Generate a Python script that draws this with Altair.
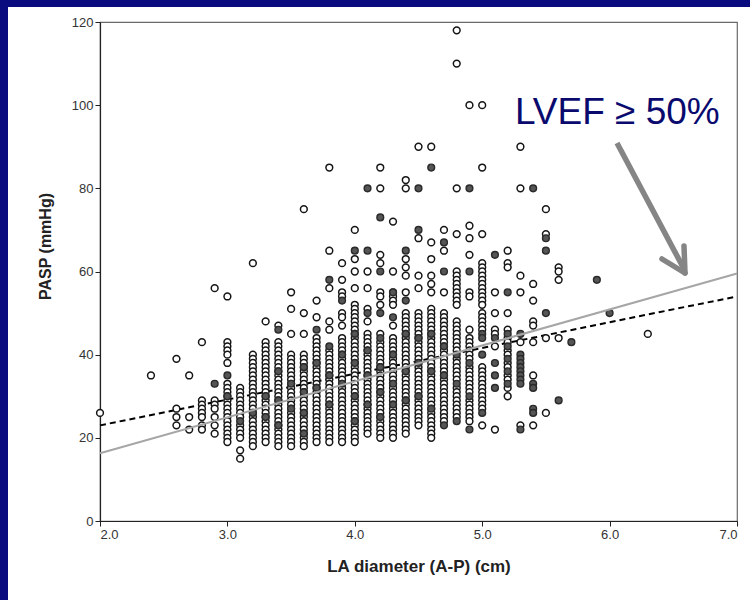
import altair as alt
import pandas as pd

# ---- data: PASP values per LA-diameter column ----
OPEN = {
    "2.0": "26",
    "2.4": "35",
    "2.6": "39 27 25 23",
    "2.7": "35 25 22",
    "2.8": "43 29 28 27 26 25 23 22",
    "2.9": "56 29 28 27 25 23 21",
    "3.0": "54 43 42 41 40 38 33 32 31 30 29 28 27 26 25 24 23 22 21 20 19",
    "3.1": "32 31 30 29 28 27 26 25 23 22 21 20 17 15",
    "3.2": "62 40 39 38 37 36 35 34 33 32 31 30 29 28 27 26 25 24 23 22 21 20 19 18",
    "3.3": "48 43 42 41 40 39 38 37 36 35 34 33 32 31 30 29 28 27 26 25 24 23 22 21 20 19",
    "3.4": "47 43 42 41 40 39 38 37 36 35 34 33 32 31 30 29 28 27 26 25 24 23 22 21 20 19 18",
    "3.5": "55 51 45 40 39 38 37 36 35 34 33 32 31 30 29 28 27 26 25 24 23 22 21 20 19 18",
    "3.6": "75 50 45 40 39 38 37 36 35 34 33 32 31 30 29 28 27 26 25 24 23 22 21 20 19 18",
    "3.7": "53 49 44 43 42 41 40 39 38 37 36 35 34 33 32 31 30 29 28 27 26 25 24 23 22 21 20 19",
    "3.8": "85 65 56 48 46 41 40 39 38 37 36 35 34 33 32 31 30 29 28 27 26 25 24 23 22 21 20 19",
    "3.9": "62 58 55 54 50 49 47 44 43 42 41 40 39 38 37 36 35 34 33 32 31 30 29 28 27 26 25 24 23 22 21 20 19",
    "4.0": "70 63 60 56 52 51 50 49 48 47 46 45 44 43 42 41 40 39 38 37 36 35 34 33 32 31 30 29 28 27 26 25 24 23 22 21 20 19",
    "4.1": "60 56 51 48 45 44 43 42 41 40 39 38 37 36 35 34 33 32 31 30 29 28 27 26 25 24 23 22 21",
    "4.2": "85 80 64 62 55 54 52 45 43 42 41 40 39 38 37 36 35 34 33 32 31 30 29 28 27 26 25 24 23 22 21 20",
    "4.3": "72 60 55 54 53 52 47 44 43 42 41 40 39 38 37 36 35 34 33 32 31 30 29 28 27 26 25 24 23 22 21 20",
    "4.4": "82 80 63 61 59 55 50 49 48 47 46 45 44 43 42 41 40 39 38 37 36 35 34 33 32 31 30 29 28 27 26 25 24 23 22 21",
    "4.5": "90 68 59 56 50 49 48 47 46 45 44 43 42 41 40 39 38 37 36 35 34 33 32 31 30 29 28 27 26 25 24 23",
    "4.6": "90 67 63 59 57 55 51 50 49 48 47 46 45 44 43 42 41 40 39 38 37 36 35 34 33 32 31 30 29 28 27 26 25 24 23 22 21 20",
    "4.7": "70 65 55 50 49 48 47 46 45 44 43 42 41 40 39 38 37 36 35 34 33 32 31 30 29 28 27 26 25 24",
    "4.8": "118 110 80 69 60 59 58 57 56 55 54 53 52 48 47 46 45 44 43 42 41 39 38 37 36 35 34 32 31 30 29 28 27 26 25",
    "4.9": "100 71 68 64 55 54 46 44 43 42 41 40 39 37 36 35 34 33 32 31 29 28 27 26 25 24",
    "5.0": "100 85 69 62 61 60 59 58 57 56 55 54 53 52 50 49 48 47 46 37 36 35 34 33 32 31 30 29 28 27 23",
    "5.1": "55 50 46 45 42 22",
    "5.2": "65 62 61 50 46 44 43 41 40 38 37 35 34 32 30",
    "5.3": "90 80 59 55 43 23",
    "5.4": "57 53 48 47 43 35 23",
    "5.5": "75 69 44 26",
    "5.6": "61 60 58 44",
    "6.3": "45",
}

FILLED = {
    "2.9": "33",
    "3.0": "35 30",
    "3.1": "24",
    "3.2": "26",
    "3.3": "30 25",
    "3.4": "46 36 29 23",
    "3.5": "33 27",
    "3.6": "37 31 26 21",
    "3.7": "46 38 32",
    "3.8": "58 42 35 28",
    "3.9": "53 40 33",
    "4.0": "65 45 38 30 24",
    "4.1": "80 65 50 41 35 28",
    "4.2": "73 60 50 44 37 31 25",
    "4.3": "55 49 40 33 28",
    "4.4": "65 53 45 36 29",
    "4.5": "80 70 44 38 30",
    "4.6": "85 45 36 27",
    "4.7": "67 60 42 35 23",
    "4.8": "40 33 24",
    "4.9": "80 60 38 30 22",
    "5.0": "45 44 40 26",
    "5.1": "64 44 38 35 32",
    "5.2": "55 45 42 39 36 33",
    "5.3": "45 40 39 38 37 36 35 34 33 22",
    "5.4": "80 33 32 27 26",
    "5.5": "68 65 50",
    "5.6": "29",
    "5.7": "43",
    "5.9": "58",
    "6.0": "50",
}

# fit lines (end points read at x = 2.0 and 7.0)
FIT_X = [2.0, 7.0]
FIT_ALL = [23.0, 54.0]          # dashed black
FIT_PRESERVED = [16.3, 59.5]    # solid grey

X_TICKS = [2, 3, 4, 5, 6, 7]
Y_TICKS = [0, 20, 40, 60, 80, 100, 120]

ANNOTATION = "LVEF ≥ 50%"


def expand(table, kind):
    rows = []
    for x, s in table.items():
        for y in s.split():
            rows.append({"x": float(x), "y": float(y), "kind": kind})
    return rows


open_df = pd.DataFrame(expand(OPEN, "open"))
filled_df = pd.DataFrame(expand(FILLED, "filled"))
fit_df = pd.DataFrame({"x": FIT_X, "all": FIT_ALL, "pres": FIT_PRESERVED})
one = pd.DataFrame({"a": [0]})

LABEL_FONT = "Liberation Sans, Arial, sans-serif"
TITLE_FONT = "Liberation Sans, Arial, sans-serif"

x_axis = alt.Axis(values=X_TICKS, format=".1f", title="LA diameter (A-P) (cm)",
                  grid=False, tickSize=5, labelPadding=2, titleFontSize=17,
                  titleY=45, titleBaseline="middle")
y_axis = alt.Axis(values=Y_TICKS, format="d", title="PASP (mmHg)",
                  grid=False, tickSize=5, labelPadding=2, titleFontSize=16,
                  titleX=-55, titleY=224, titleBaseline="middle")

xs = alt.Scale(domain=[2, 7], nice=False, zero=False)
ys = alt.Scale(domain=[0, 120], nice=False)

BLUE = "#0b0b80"

strip_left = alt.Chart(one).mark_rect(color=BLUE).encode(
    x=alt.value(-100), x2=alt.value(-92), y=alt.value(-22), y2=alt.value(578))
strip_top = alt.Chart(one).mark_rect(color=BLUE).encode(
    x=alt.value(-100), x2=alt.value(650), y=alt.value(-22), y2=alt.value(-15))

dashed = alt.Chart(fit_df).mark_line(color="black", strokeDash=[6, 4], strokeWidth=2).encode(
    x=alt.X("x:Q", scale=xs, axis=x_axis), y=alt.Y("all:Q", scale=ys, axis=y_axis))

open_pts = alt.Chart(open_df).mark_point(
    shape="circle", size=46, filled=True, fill="white", fillOpacity=1,
    stroke="#151515", strokeWidth=1.5, strokeOpacity=1, opacity=1).encode(
    x=alt.X("x:Q", scale=xs, axis=x_axis), y=alt.Y("y:Q", scale=ys, axis=y_axis))

filled_pts = alt.Chart(filled_df).mark_point(
    shape="circle", size=46, filled=True, fill="#555555", fillOpacity=1,
    stroke="#2a2a2a", strokeWidth=1.4, strokeOpacity=1, opacity=1).encode(
    x=alt.X("x:Q", scale=xs, axis=x_axis), y=alt.Y("y:Q", scale=ys, axis=y_axis))

solid = alt.Chart(fit_df).mark_line(color="#a6a6a6", strokeWidth=2).encode(
    x=alt.X("x:Q", scale=xs, axis=x_axis), y=alt.Y("pres:Q", scale=ys, axis=y_axis))

label = alt.Chart(one).mark_text(
    text=ANNOTATION, font=TITLE_FONT, fontSize=37, color="#0a0a6e",
    align="left", baseline="alphabetic").encode(x=alt.value(415), y=alt.value(102))

ARROW = "#858585"
shaft = alt.Chart(one).mark_rule(color=ARROW, strokeWidth=5.5, strokeCap="butt").encode(
    x=alt.value(517), y=alt.value(121), x2=alt.value(584), y2=alt.value(247))
wing1 = alt.Chart(one).mark_rule(color=ARROW, strokeWidth=5.5, strokeCap="round").encode(
    x=alt.value(585), y=alt.value(251), x2=alt.value(584), y2=alt.value(224))
wing2 = alt.Chart(one).mark_rule(color=ARROW, strokeWidth=5.5, strokeCap="round").encode(
    x=alt.value(585), y=alt.value(251), x2=alt.value(562), y2=alt.value(237))

chart = alt.layer(
    strip_left, strip_top, dashed, open_pts, filled_pts, solid, label, shaft, wing1, wing2
).properties(
    width=637, height=499,
    autosize=alt.AutoSizeParams(type="none"),
    padding={"left": 100, "top": 22, "right": 13, "bottom": 79},
    background="white",
).configure_view(
    stroke="#6a6a6a", strokeWidth=1.2
).configure_axis(
    domainColor="#222222", domainWidth=1.2, tickColor="#222222", tickWidth=1,
    labelFont=LABEL_FONT, labelFontSize=13, labelColor="#333333",
    titleFont=TITLE_FONT, titleFontWeight="bold", titleColor="#222222",
)

chart.save("out.html", embed_options={"renderer": "svg", "actions": False})
